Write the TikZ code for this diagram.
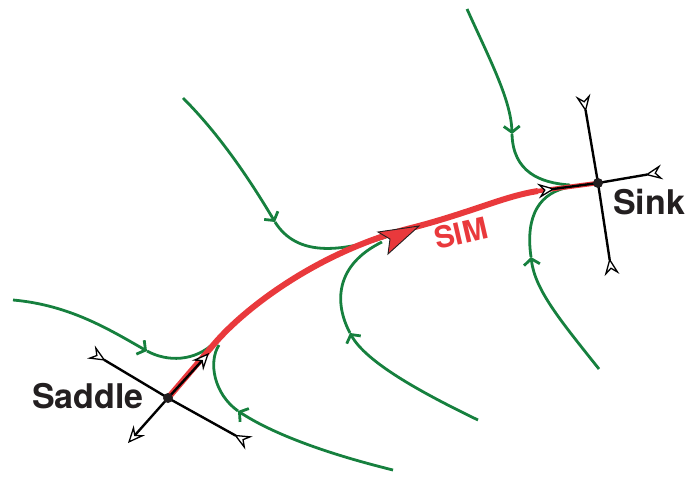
\documentclass[tikz,border=0pt]{standalone}
\usepackage{fontspec}
\setmainfont{TeX Gyre Heros}
\usetikzlibrary{arrows.meta}
\definecolor{gr}{RGB}{22,128,62}
\definecolor{rd}{RGB}{233,57,60}
\definecolor{ink}{RGB}{35,31,32}
\begin{document}
\begin{tikzpicture}[x=1pt,y=-1pt,
  flow/.style={draw=gr, line width=2.8pt},
  flowarr/.style={flow, -{Straight Barb[length=6pt,width=16pt]}},
  arm/.style={draw=black, line width=2.4pt},
  outtip/.style={arm, -{Stealth[length=17pt,width=15pt,inset=6pt,fill=white,line width=1.3pt]}},
  intip/.style={arm, -{Stealth[length=17pt,width=15pt,inset=6pt,fill=white,line width=1.3pt,reversed]}},
  sim/.style={draw=rd, line width=6pt},
  lbl/.style={font=\bfseries\fontsize{34}{34}\selectfont, text=ink, inner sep=0pt},
]
\useasboundingbox (0,0) rectangle (689,477);

% fixed points
\coordinate (saddle) at (168,398);
\coordinate (sink) at (598,183);
\coordinate (sU) at (209,353);
\coordinate (sD) at (128,443);
\coordinate (sL) at (91,352);
\coordinate (sR) at (249,443);
\coordinate (kT) at (583,95);
\coordinate (kB) at (612,275);
\coordinate (kL) at (538,191);
\coordinate (kR) at (662,172);

% green trajectories
\coordinate (a1) at (13,300);   \coordinate (m1) at (147,351); \coordinate (e1) at (215,342);
\draw[flowarr] (a1) .. controls (70,305) and (110,330) .. (m1);
\draw[flow] (m1) .. controls (167,362) and (195,362) .. (e1);

\coordinate (a2) at (183,98);   \coordinate (m2) at (275,222); \coordinate (e2) at (386,237);
\draw[flowarr] (a2) .. controls (220,135) and (250,180) .. (m2);
\draw[flow] (m2) .. controls (297,257) and (340,252) .. (e2);

\coordinate (a3) at (467,9);    \coordinate (m3) at (512,134); \coordinate (e3) at (570,185);
\draw[flowarr] (a3) .. controls (490,60) and (511,100) .. (m3);
\draw[flow] (m3) .. controls (513,172) and (540,183) .. (e3);

\coordinate (a4) at (599,369);  \coordinate (m4) at (531,257); \coordinate (e4) at (570,187);
\draw[flowarr] (a4) .. controls (560,320) and (535,290) .. (m4);
\draw[flow] (m4) .. controls (525,215) and (540,192) .. (e4);

\coordinate (a5) at (478,420);  \coordinate (m5) at (350,333); \coordinate (e5) at (382,242);
\draw[flowarr] (a5) .. controls (420,392) and (366,362) .. (m5);
\draw[flow] (m5) .. controls (334,303) and (335,265) .. (e5);

\coordinate (a6) at (393,470);  \coordinate (m6) at (238,411); \coordinate (e6) at (219,345);
\draw[flowarr] (a6) .. controls (320,452) and (270,432) .. (m6);
\draw[flow] (m6) .. controls (214,394) and (208,362) .. (e6);

% slow invariant manifold
\coordinate (r1) at (215,343);
\coordinate (r2) at (415,227);
\draw[sim] (saddle) -- (r1) .. controls (245,308) and (320,250) .. (r2)
  .. controls (472,212) and (505,196) .. (kL);
\draw[draw=rd, line width=4.5pt] (kL) -- (sink);

% saddle arms
\draw[intip] (saddle) -- (sL);
\draw[intip] (saddle) -- (sR);
\draw[outtip] (saddle) -- (sU);
\draw[outtip] (saddle) -- (sD);
% sink arms
\draw[intip] (sink) -- (kT);
\draw[intip] (sink) -- (kB);
\draw[intip] (sink) -- (kL);
\draw[intip] (sink) -- (kR);

\fill[ink] (saddle) circle (5);
\fill[ink] (sink) circle (5);

% SIM arrowhead
\filldraw[fill=rd, draw=ink, line width=0.9pt, line join=miter]
  (419,226) -- (378,232) -- (390,239) -- (388,254) -- cycle;

% labels
\node[lbl] (saddlelbl) at (88,396) {Saddle};
\node[lbl] (sinklbl) at (649,202) {Sink};
\node[lbl, text=rd, font=\bfseries\fontsize{30}{30}\selectfont, rotate=13] (simlbl) at (461,233) {SIM};
\end{tikzpicture}
\end{document}
